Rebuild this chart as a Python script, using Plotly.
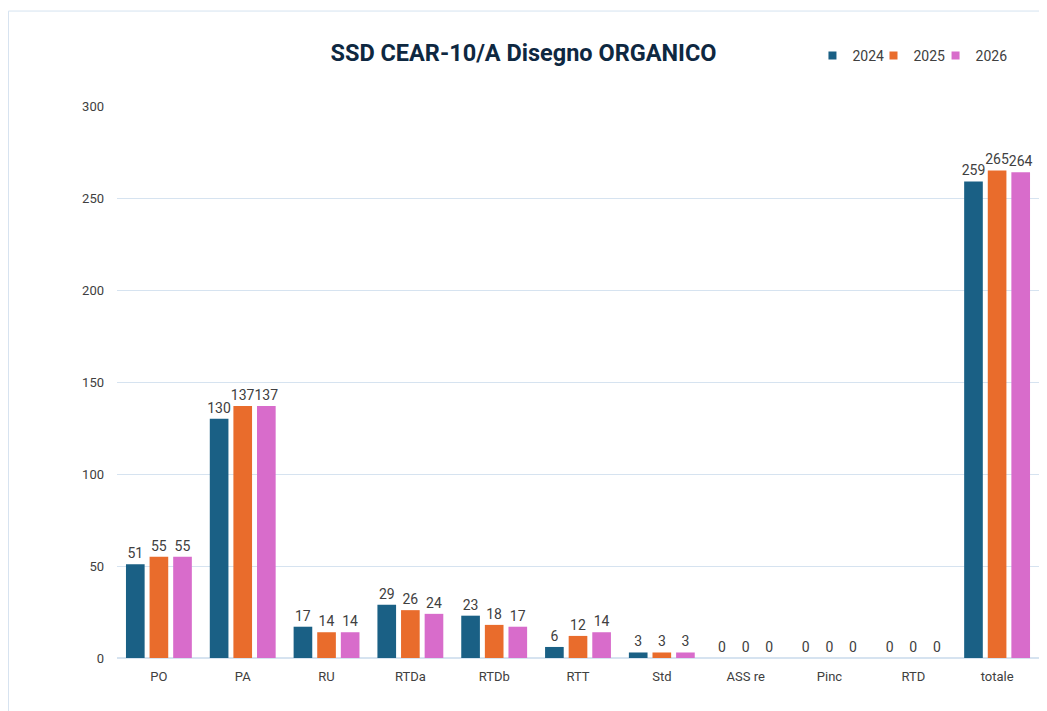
import plotly.graph_objects as go

categories = ["PO", "PA", "RU", "RTDa", "RTDb", "RTT", "Std", "ASS re", "Pinc", "RTD", "totale"]
values_2024 = [51, 130, 17, 29, 23, 6, 3, 0, 0, 0, 259]
values_2025 = [55, 137, 14, 26, 18, 12, 3, 0, 0, 0, 265]
values_2026 = [55, 137, 14, 24, 17, 14, 3, 0, 0, 0, 264]

series = [
    ("2024", values_2024, "#1A6085"),
    ("2025", values_2025, "#E96C2C"),
    ("2026", values_2026, "#D86CCB"),
]

fig = go.Figure()
for name, vals, color in series:
    fig.add_trace(go.Bar(
        x=categories, y=vals, name=name, showlegend=False,
        marker=dict(color=color, line=dict(width=0)),
        text=vals, textposition="outside", cliponaxis=False, constraintext="none",
        textfont=dict(size=14, color="#404040"),
    ))

# small square legend keys, one legend per year so they can be spaced like Excel
legend_ids = ["legend", "legend2", "legend3"]
legend_x = [0.7543, 0.8205, 0.8878]
for (name, vals, color), lid in zip(series, legend_ids):
    fig.add_trace(go.Scatter(
        x=[None], y=[None], name=name, mode="markers", legend=lid,
        marker=dict(symbol="square", size=8, color=color),
    ))

legend_style = dict(orientation="h", y=1.0906, xanchor="left", yanchor="middle",
                    font=dict(size=14, color="#404040"), itemwidth=30,
                    bgcolor="rgba(0,0,0,0)")

fig.update_layout(
    width=1031, height=703,
    margin=dict(l=109, r=0, t=98, b=53),
    paper_bgcolor="white", plot_bgcolor="white",
    font=dict(family="Roboto, sans-serif", color="#404040"),
    title=dict(text="<b>SSD CEAR-10/A Disegno ORGANICO</b>", x=0.5, xanchor="center",
               y=0.937, yanchor="middle",
               font=dict(size=23.5, color="#0E2841", family="Roboto, sans-serif")),
    barmode="group", bargap=0.155, bargroupgap=0.21,
    legend=dict(x=legend_x[0], **legend_style),
    legend2=dict(x=legend_x[1], **legend_style),
    legend3=dict(x=legend_x[2], **legend_style),
    xaxis=dict(range=[-0.5, 10.5], showgrid=False, showline=True, linecolor="#D6E3F0",
               linewidth=1, ticks="", tickfont=dict(size=13, color="#404040"),
               ticklabelstandoff=6),
    yaxis=dict(range=[0, 300], dtick=50, showgrid=True, gridcolor="#D6E3F0", gridwidth=1,
               zeroline=True, zerolinecolor="#D6E3F0", ticks="",
               tickfont=dict(size=13, color="#404040"), ticklabelstandoff=12),
    shapes=[dict(type="rect", xref="paper", yref="paper", x0=-0.1177, x1=1.05, y0=-0.2, y1=1.172,
                 line=dict(color="#D6E3F0", width=1), fillcolor="rgba(0,0,0,0)", layer="below")],
)

fig.write_html("out.html")
